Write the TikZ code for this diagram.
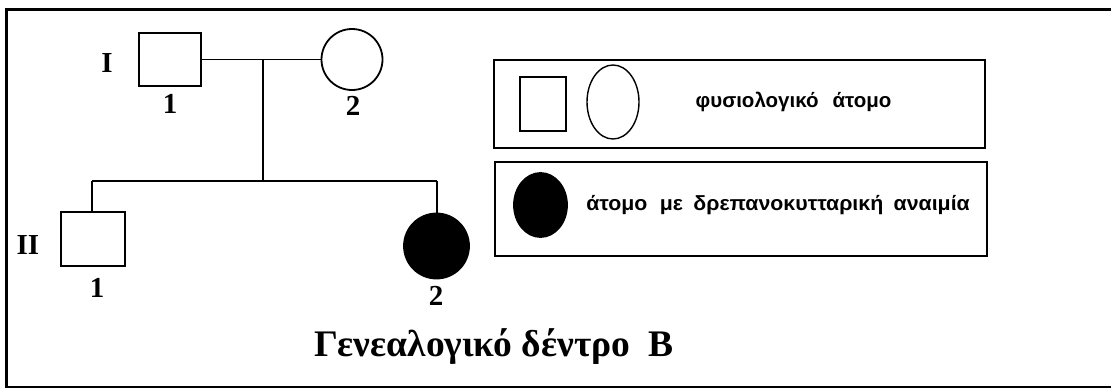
\documentclass[tikz,border=0pt]{standalone}
\usepackage{fontspec}
\setmainfont{Liberation Serif}
\newfontfamily\legfont{Liberation Sans}
\usetikzlibrary{shapes.geometric}
\begin{document}
\begin{tikzpicture}[x=1pt,y=-1pt,
  line width=1.8pt,
  sq/.style={draw, rectangle, inner sep=0pt},
  circ/.style={draw, circle, inner sep=0pt},
  ell/.style={draw, ellipse, inner sep=0pt},
  lbl/.style={inner sep=0pt, font=\bfseries\fontsize{29}{29}\selectfont},
  legtxt/.style={inner sep=0pt, font=\legfont\bfseries\fontsize{20.5}{20.5}\selectfont},
  legbox/.style={draw, rectangle, inner sep=0pt}]
\useasboundingbox (0,0) rectangle (1111,388);
\fill[white] (0,0) rectangle (1111,388);
% frame
\draw[line width=3pt] (6.5,388) -- (6.5,9) -- (1111,9);
\draw[line width=1.5pt] (6.5,387) -- (1111,387);
% generation I
\node[sq, minimum width=62pt, minimum height=53pt] (i1) at (170,59.5) {};
\node[circ, minimum size=61pt] (i2) at (352,59.5) {};
\node[lbl] (gI) at (107,63) {I};
\node[lbl] (n11) at (170,104) {1};
\node[lbl] (n12) at (353,106) {2};
% generation II
\node[sq, minimum width=64pt, minimum height=54pt] (ii1) at (93,239) {};
\node[circ, fill=black, minimum size=65pt] (ii2) at (436.5,246) {};
\node[lbl] (gII) at (28,245) {II};
\node[lbl] (n21) at (97,288) {1};
\node[lbl] (n22) at (436,296) {2};
% connectors
\coordinate (m) at (263,59.5);
\coordinate (sib) at (263,181);
\coordinate (sibL) at (92,181);
\coordinate (sibR) at (437,181);
\draw (i1.east) -- (i2.west);
\draw (m) -- (sib);
\draw (sibL) -- (sibR);
\draw (sibL) -- (sibL |- ii1.north);
\draw (sibR) -- (sibR |- ii2.north);
% title
\node[inner sep=0pt, font=\bfseries\fontsize{37.5}{37.5}\selectfont] (title) at (494,347) {Γενεαλογικό δέντρο\ \ Β};
% legend
\node[legbox, minimum width=491pt, minimum height=88pt] (lb1) at (739.5,104) {};
\node[legbox, minimum width=492pt, minimum height=94pt] (lb2) at (741,209) {};
\node[sq, line width=1.4pt, minimum width=46pt, minimum height=54pt] (ls) at (543,104) {};
\node[ell, line width=1.4pt, minimum width=52pt, minimum height=74pt] (lc) at (613,102) {};
\node[ell, fill=black, minimum width=53pt, minimum height=64pt] (lf) at (540.5,205) {};
\node[legtxt] (t1) at (793.5,102) {φυσιολογικό\hspace{14pt}άτομο};
\node[legtxt] (t2) at (778,205) {\scalebox{1.04}[1]{άτομο\hspace{12pt}με\hspace{10pt}δρεπανοκυτταρική\hspace{10pt}αναιμία}};
\end{tikzpicture}
\end{document}
